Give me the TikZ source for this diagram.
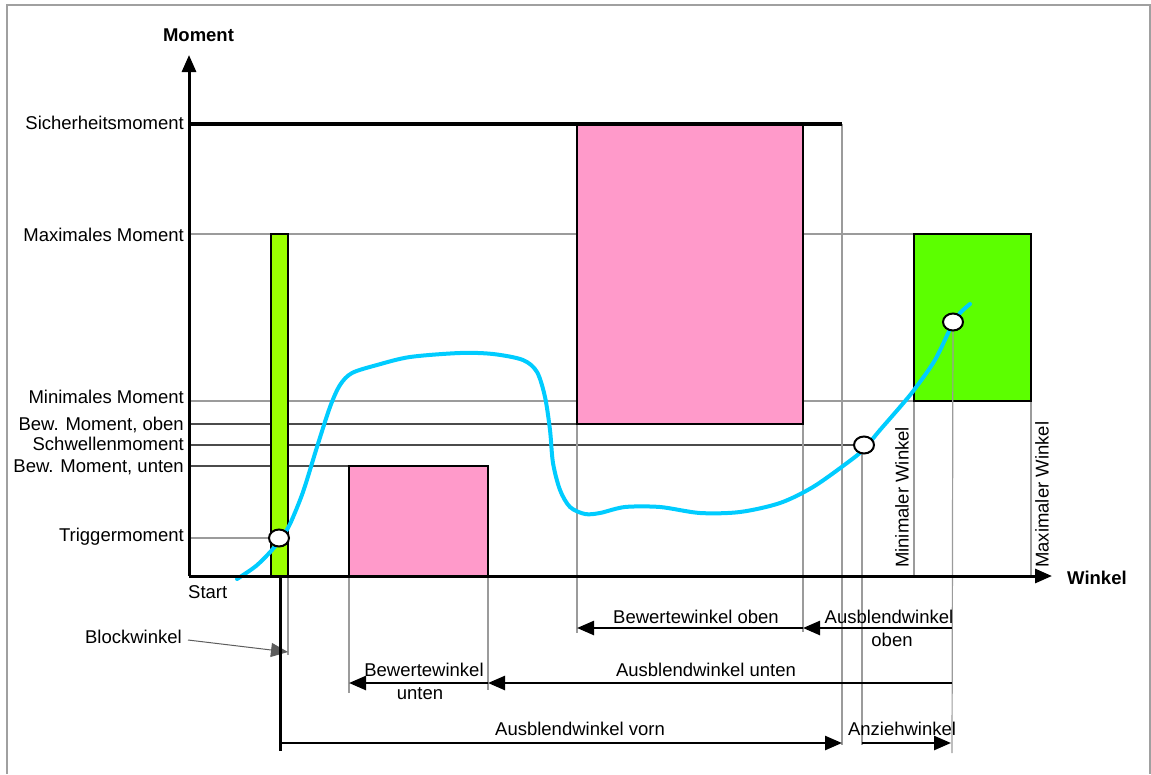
\documentclass[tikz,border=0pt]{standalone}
\usepackage{fontspec}
\setmainfont{Liberation Sans}
\usetikzlibrary{arrows.meta,shapes.geometric}

\definecolor{framecol}{RGB}{160,160,160}
\definecolor{gridlight}{RGB}{155,155,155}
\definecolor{griddark}{RGB}{75,75,75}
\definecolor{pinkfill}{RGB}{255,154,202}
\definecolor{limefill}{RGB}{155,255,0}
\definecolor{greenfill}{RGB}{92,255,0}
\definecolor{curvecol}{RGB}{0,204,255}

\begin{document}
\begin{tikzpicture}[x=1pt,y=-1pt,
  >={Triangle[length=17pt,width=14pt]},
  lbl/.style={font=\fontsize{18.5}{22}\selectfont, inner sep=0pt,
              text height=13.3pt, text depth=0pt},
  boldlbl/.style={lbl, font=\fontsize{18.5}{22}\selectfont\bfseries},
  gline/.style={draw=gridlight, line width=1.2pt},
  dline/.style={draw=griddark, line width=1.2pt},
  boxline/.style={draw=black, line width=2.5pt},
  axisline/.style={draw=black, line width=3pt},
  span/.style={draw=black, line width=2.5pt, ->},
  marker/.style={ellipse, draw=black, fill=white, line width=2pt,
                 minimum width=20pt, minimum height=17pt, inner sep=0pt},
]
\useasboundingbox (0,0) rectangle (1151,774);

% outer frame
\draw[framecol, line width=1.5pt] (7,774) -- (7,5) -- (1150,5) -- (1150,774);

% axes reference points
\coordinate (O)    at (189,576);
\coordinate (ytip) at (189,55);
\coordinate (xtip) at (1052,576);

% left ends of the moment levels
\coordinate (lSich) at (189,124);
\coordinate (lMax)  at (189,234);
\coordinate (lMin)  at (189,401);
\coordinate (lBewO) at (189,424);
\coordinate (lSchw) at (189,445);
\coordinate (lBewU) at (189,466);
\coordinate (lTrig) at (189,538);

% measuring points on the curve
\coordinate (p1) at (279,538);
\coordinate (p2) at (864,445);
\coordinate (p3) at (953,322);

% horizontal level lines
\draw[gline] (lMax) -- (914,234);
\draw[gline] (lMin) -- (914,401);
\draw[dline] (lBewO) -- (577,424);
\draw[dline] (lSchw) -- (p2);
\draw[dline] (lBewU) -- (349,466);
\draw[gline] (lTrig) -- (p1);

% vertical projection lines
\draw[gline] (288,576) -- (288,655);
\draw[gline] (349,576) -- (349,693);
\draw[gline] (488,576) -- (488,690);
\draw[gline] (577,424) -- (577,633);
\draw[gline] (803,424) -- (803,632);
\draw[gline] (842,124) -- (842,745);
\draw[gline] (862,452) -- (862,745);
\draw[gline] (914,401) -- (914,576);
\draw[gline] (1031,401) -- (1031,576);

% windows
\draw[boxline, fill=limefill]  (271,234) rectangle (288,576);
\draw[boxline, fill=pinkfill]  (349,466) rectangle (488,576);
\draw[boxline, fill=pinkfill]  (577,124) rectangle (803,424);
\draw[boxline, fill=greenfill] (914,234) rectangle (1031,401);

\draw[gline] (p3) -- (952,753);

% torque curve
\draw[curvecol, line width=4pt, line cap=round]
  plot[smooth, tension=0.5] coordinates {
    (237,579) (256,566) (272,550) (282,537) (290,524) (303,492)
    (317,447) (330,407) (340,385) (352,373) (377,365) (410,357)
    (460,353) (493,354) (523,360) (537,372) (545,397) (550,430)
    (553,463) (560,490) (570,507) (585,514) (600,513) (625,507)
    (660,507) (700,513) (740,512) (780,503) (813,487) (847,463)
    (863,450) (880,430) (900,407) (914,390) (935,360) (952,325)
    (960,313) (970,304)};

\node[marker] (c1) at (p1) {};
\node[marker] (c2) at (p2) {};
\node[marker] (c3) at (p3) {};

% axes
\draw[axisline, ->] (O) -- (ytip);
\draw[axisline, ->] (O) -- (xtip);
\draw[black, line width=4pt] (lSich) -- (842,124);

% block angle leader
\coordinate (blkstart) at (188,640);
\coordinate (blktip)   at (288,652);
\draw[draw=gridlight!60!black, line width=1pt, ->] (blkstart) -- (blktip);
\draw[black, line width=3pt] (280,576) -- (280,751);

% angle spans below the axis
\coordinate (a577) at (577,628);
\coordinate (a803) at (803,628);
\coordinate (a952o) at (952,628);
\coordinate (a349) at (349,683);
\coordinate (a488) at (488,683);
\coordinate (a952u) at (952,683);
\coordinate (a280) at (280,743);
\coordinate (a842) at (842,743);
\coordinate (a862) at (862,743);
\coordinate (a951) at (951,743);

\draw[span] (a803) -- (a577);
\draw[span] (a952o) -- (a803);
\draw[span] (a488) -- (a349);
\draw[span] (a952u) -- (a488);
\draw[span] (a280) -- (a842);
\draw[span] (a862) -- (a951);

% axis titles
\node[boldlbl] (tM) at (198.5,35) {Moment};
\node[boldlbl, anchor=west] (tW) at (1067,578) {Winkel};

% moment level labels
\node[lbl, anchor=east] (nSich) at (184,123) {Sicherheitsmoment};
\node[lbl, anchor=east] (nMax)  at (184,235) {Maximales Moment};
\node[lbl, anchor=east] (nMin)  at (184,397) {Minimales Moment};
\node[lbl, anchor=east] (nBewO) at (184,424) {Bew. Moment, oben};
\node[lbl, anchor=east] (nSchw) at (184,444) {Schwellenmoment};
\node[lbl, anchor=east] (nBewU) at (184,466) {Bew. Moment, unten};
\node[lbl, anchor=east] (nTrig) at (184,535) {Triggermoment};
\node[lbl, anchor=west] (nStart) at (188,592) {Start};
\node[lbl, anchor=east] (nBlk) at (182,637) {Blockwinkel};

% angle labels
\node[lbl, rotate=90, anchor=west] (nMinW) at (902,568) {Minimaler Winkel};
\node[lbl, rotate=90, anchor=west] (nMaxW) at (1042,568) {Maximaler Winkel};

\node[lbl] (nBwO) at (696,617) {Bewertewinkel oben};
\node[lbl] (nAbO1) at (889,617) {Ausblendwinkel};
\node[lbl] (nAbO2) at (892,640) {oben};
\node[lbl] (nAbU) at (706,670) {Ausblendwinkel unten};
\node[lbl] (nBwU1) at (424,670) {Bewertewinkel};
\node[lbl] (nBwU2) at (420,693) {unten};
\node[lbl] (nAbV) at (580,729) {Ausblendwinkel vorn};
\node[lbl] (nAnz) at (902,729) {Anziehwinkel};
\end{tikzpicture}
\end{document}
